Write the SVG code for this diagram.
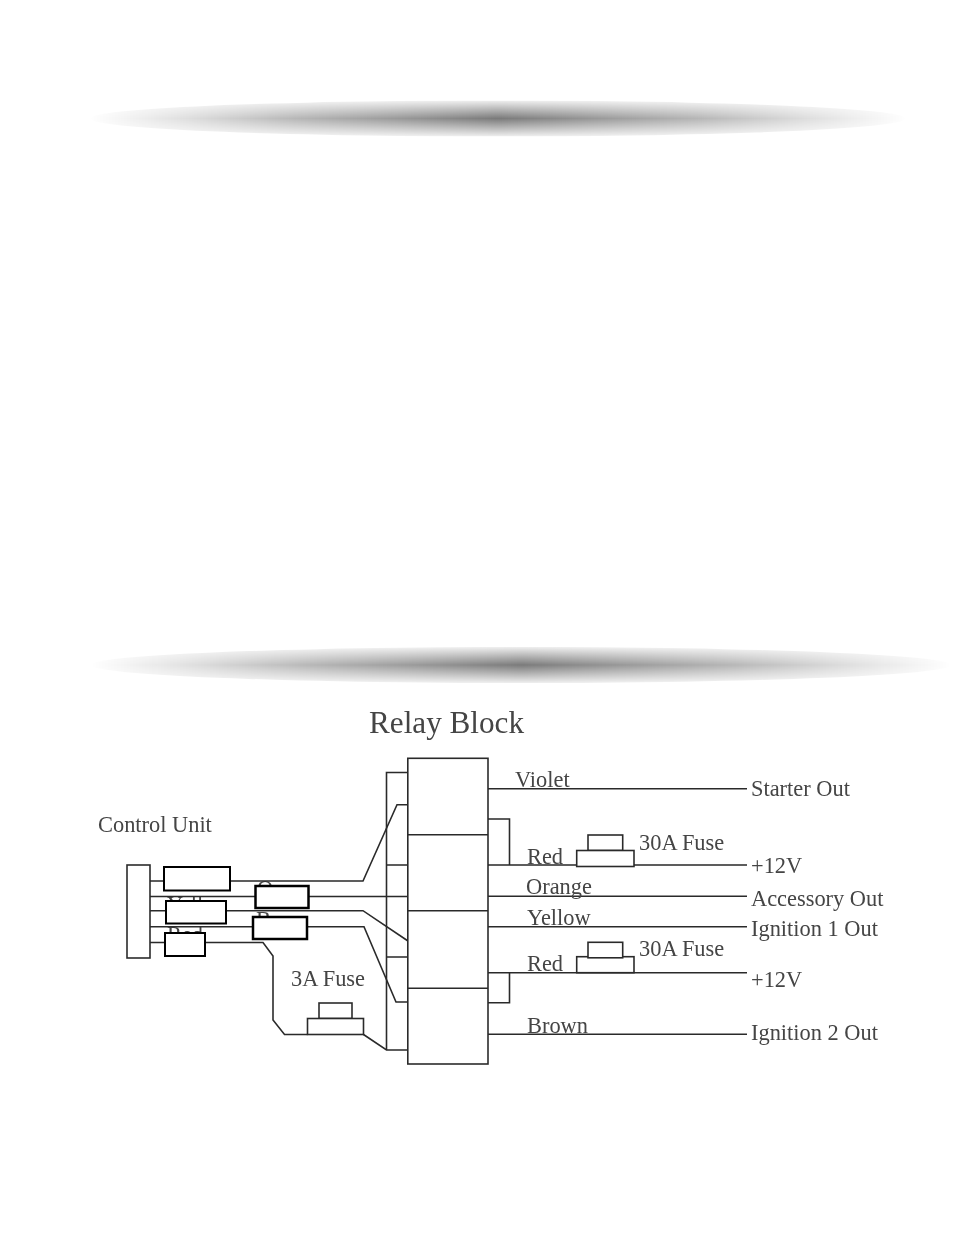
<svg xmlns="http://www.w3.org/2000/svg" width="954" height="1235" viewBox="0 0 954 1235">
<style>
text{font-family:"Liberation Serif","Times New Roman",serif;font-size:22.4px;fill:#444}
.w{fill:none;stroke:#2a2a2a;stroke-width:1.6}
.b{fill:#fff;stroke:#2a2a2a;stroke-width:1.6}
.m{fill:#fff;stroke:#000;stroke-width:2}
.m2{fill:#fff;stroke:#000;stroke-width:2.5}
</style>
<defs>
<linearGradient id="hfade">
<stop offset="0" stop-color="#000" stop-opacity="0"/>
<stop offset="0.12" stop-color="#000" stop-opacity="0.13"/>
<stop offset="0.25" stop-color="#000" stop-opacity="0.28"/>
<stop offset="0.38" stop-color="#000" stop-opacity="0.4"/>
<stop offset="0.5" stop-color="#000" stop-opacity="0.52"/>
<stop offset="0.62" stop-color="#000" stop-opacity="0.4"/>
<stop offset="0.75" stop-color="#000" stop-opacity="0.28"/>
<stop offset="0.88" stop-color="#000" stop-opacity="0.13"/>
<stop offset="1" stop-color="#000" stop-opacity="0"/>
</linearGradient>
<linearGradient id="vfade" x1="0" y1="0" x2="0" y2="1">
<stop offset="0" stop-color="#fff" stop-opacity="0.12"/>
<stop offset="0.5" stop-color="#fff" stop-opacity="1"/>
<stop offset="1" stop-color="#fff" stop-opacity="0.12"/>
</linearGradient>
<mask id="vmask" maskContentUnits="objectBoundingBox"><rect width="1" height="1" fill="url(#vfade)"/></mask>
<filter id="soft" x="-5%" y="-5%" width="110%" height="110%"><feGaussianBlur stdDeviation="0.45"/></filter>
<clipPath id="clip-yellow"><rect x="160" y="890" width="66" height="12"/></clipPath>
</defs>
<rect width="954" height="1235" fill="#fff"/>
<ellipse id="band-top" cx="498" cy="118.500" rx="408" ry="18" fill="url(#hfade)" mask="url(#vmask)"/>
<ellipse id="band-bottom" cx="521" cy="665" rx="430" ry="18" fill="url(#hfade)" mask="url(#vmask)"/>
<g filter="url(#soft)">
<g id="hidden-labels">
<text x="257" y="896">O</text>
<text x="167" y="912" clip-path="url(#clip-yellow)">Yellow</text>
<text x="256" y="927">B</text>
<text x="167" y="942">Red</text>
</g>
<g id="connectors">
<path class="w" d="M150 881H363L397 804.700H408"/>
<path class="w" d="M150 896.500H408"/>
<path class="w" d="M150 910.700H363L408 941"/>
<path class="w" d="M150 926.700H364L396 1002H408"/>
<path class="w" d="M150 942.500H263L273 956V1020L284.500 1034.500H307.500"/>
<path class="w" d="M363.500 1034.500L386.500 1050H408"/>
<path class="w" d="M386.500 1050V772.500H408M386.500 865H408M386.500 957H408"/>
<path class="w" d="M486 788.700H747"/>
<path class="w" d="M486 819H509.500V865M486 865H576.700M634 865H747"/>
<path class="w" d="M486 896.300H747"/>
<path class="w" d="M486 926.700H747"/>
<path class="w" d="M486 972.700H747M509.500 972.700V1002.700H486"/>
<path class="w" d="M486 1034.300H747"/>
</g>
<g id="control-unit"><rect class="b" x="127" y="865" width="23" height="93"/><text x="98" y="832">Control Unit</text></g>
<g id="relay-block">
<rect class="b" x="407.800" y="758.300" width="80.200" height="305.700"/>
<path class="w" d="M408 834.700H488M408 910.700H488M408 988.300H488"/>
<text x="369" y="733" style="font-size:31.200px">Relay Block</text>
</g>
<g id="fuse-3a">
<rect class="b" x="319" y="1003" width="33" height="15.500"/>
<rect class="b" x="307.500" y="1018.500" width="56" height="16"/>
<text x="291" y="986">3A Fuse</text>
</g>
<g id="fuse-30a-1">
<rect class="b" x="588" y="835" width="34.700" height="15.500"/>
<rect class="b" x="576.700" y="850.500" width="57.300" height="16"/>
<text x="639" y="850">30A Fuse</text>
</g>
<g id="fuse-30a-2">
<rect class="b" x="576.700" y="956.700" width="57.300" height="16"/>
<rect class="b" x="588" y="942.300" width="34.700" height="15.500"/>
<text x="639" y="956">30A Fuse</text>
</g>
<g id="wire-labels">
<text x="515" y="787">Violet</text>
<text x="527" y="864">Red</text>
<text x="526" y="894">Orange</text>
<text x="527" y="925">Yellow</text>
<text x="527" y="971">Red</text>
<text x="527" y="1033">Brown</text>
</g>
<g id="outputs">
<text x="751" y="796">Starter Out</text>
<text x="751" y="873">+12V</text>
<text x="751" y="906">Accessory Out</text>
<text x="751" y="936">Ignition 1 Out</text>
<text x="751" y="987">+12V</text>
<text x="751" y="1040">Ignition 2 Out</text>
</g>
</g>
<g id="masks">
<rect class="m" x="164" y="867" width="66" height="23.500"/>
<rect class="m2" x="255.500" y="886" width="53" height="22"/>
<rect class="m" x="166" y="901" width="60" height="22.500"/>
<rect class="m2" x="253" y="917" width="54" height="22"/>
<rect class="m" x="165" y="933" width="40" height="23"/>
</g>
</svg>
